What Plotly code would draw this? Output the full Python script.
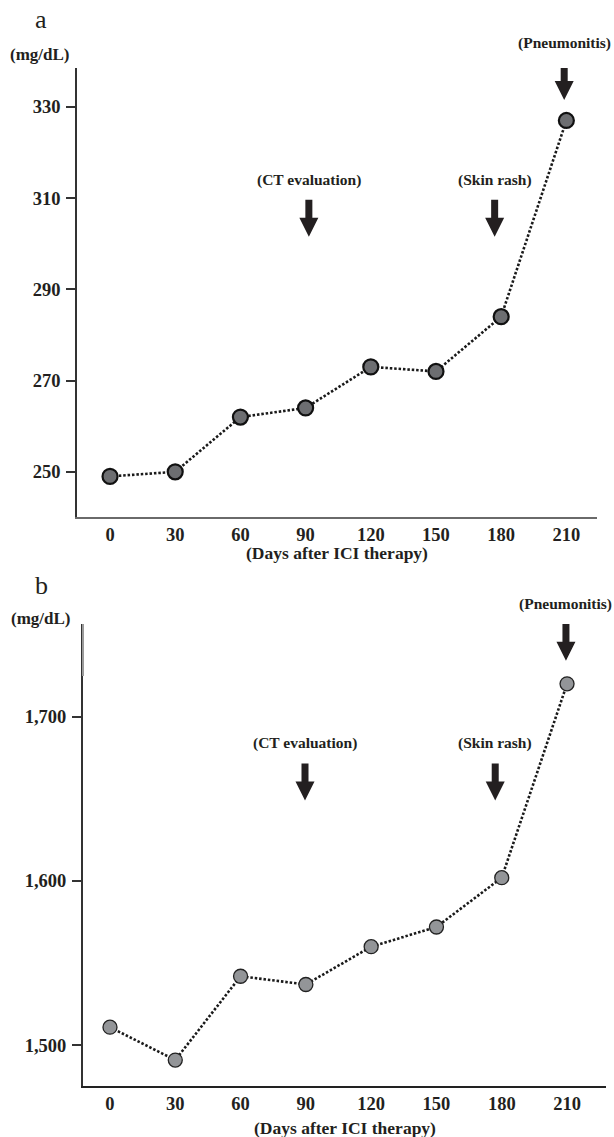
import plotly.graph_objects as go

# ---- data ----
days = [0, 30, 60, 90, 120, 150, 180, 210]
values_a = [249, 250, 262, 264, 273, 272, 284, 327]
values_b = [1511, 1491, 1542, 1537, 1560, 1572, 1602, 1720]

event_labels = ["(CT evaluation)", "(Skin rash)", "(Pneumonitis)"]
event_days_a = [91.5, 177, 209]
event_tip_a = [301.5, 301.5, 331.5]
event_days_b = [89.6, 177, 209.5]
event_tip_b = [1649, 1649, 1734]

xticks = [0, 30, 60, 90, 120, 150, 180, 210]
yticks_a = [250, 270, 290, 310, 330]
yticks_b = [1500, 1600, 1700]

unit_label = "(mg/dL)"
x_title = "(Days after ICI therapy)"
panel_letters = ["a", "b"]

W, H = 614, 1137
SERIF = "Liberation Serif"
TXT = "#231f20"

fig = go.Figure()

fig.add_trace(go.Scatter(
    x=days, y=values_a, mode="lines+markers", xaxis="x", yaxis="y",
    line=dict(color="#1a1a1a", width=2.6, dash="2.5px,1.9px"),
    marker=dict(size=15, color="#6d6e71", line=dict(color="#111111", width=2.2)),
    cliponaxis=False, showlegend=False))

fig.add_trace(go.Scatter(
    x=days, y=values_b, mode="lines+markers", xaxis="x2", yaxis="y2",
    line=dict(color="#1a1a1a", width=2.6, dash="2.5px,1.9px"),
    marker=dict(size=14, color="#939598", line=dict(color="#222222", width=1.3)),
    cliponaxis=False, showlegend=False))

tickfont = dict(family=SERIF, size=18.5, color=TXT, weight="bold")

def yfrac(px):
    return 1 - px / H

fig.update_layout(
    width=W, height=H, margin=dict(l=0, r=0, t=0, b=0),
    paper_bgcolor="white", plot_bgcolor="white",
    xaxis=dict(domain=[77 / W, 597 / W], range=[-15.2, 224.1], anchor="y",
               tickvals=xticks, ticks="", showline=True, linecolor="#6a6a6a", linewidth=2,
               showgrid=False, zeroline=False, tickfont=tickfont, ticklabelstandoff=0),
    yaxis=dict(domain=[yfrac(517), yfrac(68)], range=[240.1, 338.5], anchor="x",
               tickvals=yticks_a, ticks="outside", ticklen=9, tickwidth=1.5, tickcolor="#333333",
               showline=True, linecolor="#333333", linewidth=1.6,
               showgrid=False, zeroline=False, tickfont=tickfont, ticklabelstandoff=2),
    xaxis2=dict(domain=[83 / W, 606 / W], range=[-12.4, 227.9], anchor="y2",
                tickvals=xticks, ticks="", showline=True, linecolor="#222222", linewidth=1.8,
                showgrid=False, zeroline=False, tickfont=tickfont, ticklabelstandoff=0),
    yaxis2=dict(domain=[yfrac(1085.7), yfrac(624)], range=[1475.4, 1756.4], anchor="x2",
                tickvals=yticks_b, tickformat=",", ticks="outside", ticklen=9, tickwidth=1.5,
                tickcolor="#333333", showline=True, linecolor="#333333", linewidth=2,
                showgrid=False, zeroline=False, tickfont=tickfont, ticklabelstandoff=2),
)

arrow_path = "M0,0 L-9.5,19 L-3.5,19 L-3.5,37 L3.5,37 L3.5,19 L9.5,19 Z"
shapes = []
annotations = []

for xr, yr, edays, etips in [("x", "y", event_days_a, event_tip_a),
                             ("x2", "y2", event_days_b, event_tip_b)]:
    for lab, d, t in zip(event_labels, edays, etips):
        shapes.append(dict(type="path", xref=xr, yref=yr, xsizemode="pixel", ysizemode="pixel",
                           xanchor=d, yanchor=t, path=arrow_path,
                           fillcolor=TXT, line=dict(width=0)))
        annotations.append(dict(text=lab, x=d, y=t, xref=xr, yref=yr, showarrow=False,
                                yshift=57, xanchor="center", yanchor="middle",
                                font=dict(family=SERIF, size=15.5, color=TXT, weight="bold")))

# lighter top segment of panel b's y axis line
shapes.append(dict(type="line", xref="x2 domain", yref="y2 domain", x0=0, x1=0,
                   y0=(1085.7 - 676) / (1085.7 - 624), y1=1,
                   line=dict(color="#9a9a9a", width=2)))

# unit labels
annotations.append(dict(text=unit_label, xref="x domain", yref="y domain", x=0, y=1,
                        xshift=-37, yshift=13, showarrow=False, xanchor="center", yanchor="middle",
                        font=dict(family=SERIF, size=17, color=TXT, weight="bold")))
annotations.append(dict(text=unit_label, xref="x2 domain", yref="y2 domain", x=0, y=1,
                        xshift=-42, yshift=6, showarrow=False, xanchor="center", yanchor="middle",
                        font=dict(family=SERIF, size=17, color=TXT, weight="bold")))

# x-axis titles
annotations.append(dict(text=x_title, xref="x domain", yref="y domain", x=0.5, y=0,
                        yshift=-36, showarrow=False, xanchor="center", yanchor="middle",
                        font=dict(family=SERIF, size=17.5, color=TXT, weight="bold")))
annotations.append(dict(text=x_title, xref="x2 domain", yref="y2 domain", x=0.5, y=0,
                        yshift=-42, showarrow=False, xanchor="center", yanchor="middle",
                        font=dict(family=SERIF, size=17.5, color=TXT, weight="bold")))

# panel letters
annotations.append(dict(text=panel_letters[0], xref="paper", yref="paper", x=41 / W, y=yfrac(19),
                        showarrow=False, xanchor="center", yanchor="middle",
                        font=dict(family=SERIF, size=26, color=TXT)))
annotations.append(dict(text=panel_letters[1], xref="paper", yref="paper", x=41 / W, y=yfrac(585),
                        showarrow=False, xanchor="center", yanchor="middle",
                        font=dict(family=SERIF, size=26, color=TXT)))

fig.update_layout(shapes=shapes, annotations=annotations)

fig.write_html("out.html",
               config={"displayModeBar": False},
               post_script="document.body.style.margin='0';document.body.style.overflow='hidden';"
                           "document.documentElement.style.overflow='hidden';")
